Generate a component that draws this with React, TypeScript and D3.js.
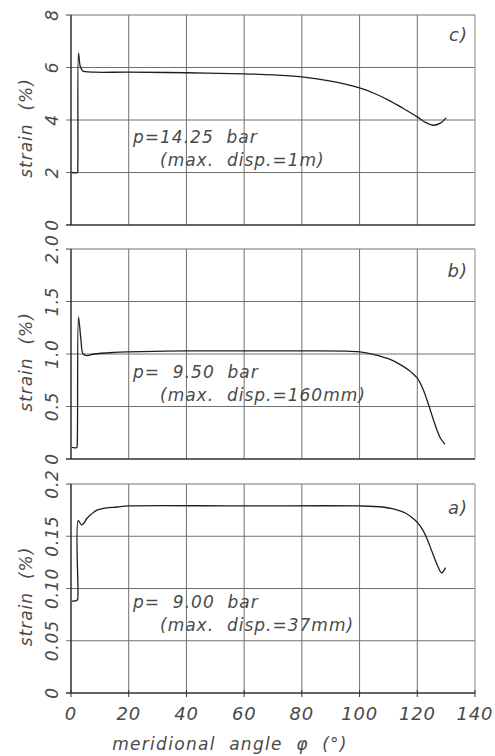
import React from "react";
import * as d3 from "d3";

// meridional angle (deg) and strain (%) per panel
const phiC = [0.3, 2.2, 2.35, 2.6, 3.2, 4, 5, 8, 20, 40, 60, 70, 80, 90, 100, 105, 110, 115, 120, 123, 125.5, 128, 130];
const strainC = [2.0, 2.0, 2.2, 6.55, 6.05, 5.88, 5.84, 5.82, 5.82, 5.8, 5.76, 5.72, 5.64, 5.48, 5.22, 5.02, 4.76, 4.45, 4.12, 3.9, 3.8, 3.88, 4.08];

const phiB = [0.3, 2.0, 2.15, 2.6, 3.4, 4.2, 5.5, 8, 15, 20, 40, 60, 80, 95, 100, 105, 110, 115, 118, 120, 122, 124, 126, 128, 129.6];
const strainB = [0.11, 0.11, 0.14, 1.35, 1.15, 1.0, 0.985, 1.0, 1.015, 1.02, 1.03, 1.03, 1.03, 1.028, 1.02, 0.995, 0.955, 0.885, 0.825, 0.77, 0.665, 0.51, 0.34, 0.2, 0.14];

const phiA = [0.3, 2.2, 2.4, 2.5, 3.6, 4.3, 5.5, 7, 9, 12, 16, 20, 60, 100, 108, 112, 116, 119, 121, 123, 125, 127, 128.4, 129.8];
const strainA = [0.088, 0.089, 0.094, 0.165, 0.161, 0.162, 0.167, 0.171, 0.175, 0.177, 0.178, 0.179, 0.179, 0.179, 0.178, 0.176, 0.172, 0.166, 0.16, 0.15, 0.136, 0.122, 0.115, 0.12];

const xTicks = [0, 20, 40, 60, 80, 100, 120, 140];
const yTicksC = [0, 2, 4, 6, 8];
const yLabelsC = ["0", "2", "4", "6", "8"];
const yTicksB = [0, 0.5, 1, 1.5, 2];
const yLabelsB = ["0", "0.5", "1.0", "1.5", "2.0"];
const yTicksA = [0, 0.05, 0.1, 0.15, 0.2];
const yLabelsA = ["0", "0.05", "0.10", "0.15", "0.2"];

const panels = [
  {
    id: "c", phi: phiC, strain: strainC, yMax: 8, top: 15, bottom: 225,
    yTicks: yTicksC, yLabels: yLabelsC,
    line1: "p=14.25  bar", line2: "(max.  disp.=1m)", t1: 143, t2: 166, labelY: 41,
  },
  {
    id: "b", phi: phiB, strain: strainB, yMax: 2, top: 249, bottom: 459,
    yTicks: yTicksB, yLabels: yLabelsB,
    line1: "p=  9.50  bar", line2: "(max.  disp.=160mm)", t1: 378, t2: 401, labelY: 277,
  },
  {
    id: "a", phi: phiA, strain: strainA, yMax: 0.2, top: 484, bottom: 693,
    yTicks: yTicksA, yLabels: yLabelsA,
    line1: "p=  9.00  bar", line2: "(max.  disp.=37mm)", t1: 608, t2: 631, labelY: 514,
  },
];

const left = 71;
const right = 475;
const font = "'DejaVu Sans', sans-serif";
const textColor = "#4a4a4a";
const txt = {
  fontFamily: font,
  fontStyle: "italic",
  fontWeight: 200,
  fill: textColor,
} as const;

const x = d3.scaleLinear().domain([0, 140]).range([left, right]);

function Panel({ p, last }: { p: (typeof panels)[number]; last: boolean }) {
  const y = d3.scaleLinear().domain([0, p.yMax]).range([p.bottom, p.top]);
  const pts = p.phi.map((v, i) => [v, p.strain[i]] as [number, number]);
  const line = d3
    .line<[number, number]>()
    .x((d) => x(d[0]))
    .y((d) => y(d[1]))
    .curve(d3.curveCatmullRom.alpha(0.5));
  const mid = (p.top + p.bottom) / 2 + 8;
  return (
    <g>
      {/* grid */}
      {xTicks.slice(1, -1).map((t) => (
        <line key={"gx" + t} x1={x(t)} x2={x(t)} y1={p.top} y2={p.bottom} stroke="#707070" strokeWidth={1} />
      ))}
      {p.yTicks.slice(1, -1).map((t) => (
        <line key={"gy" + t} x1={left - 5} x2={right} y1={y(t)} y2={y(t)} stroke="#707070" strokeWidth={1} />
      ))}
      {/* frame */}
      <line x1={left} x2={right} y1={p.top} y2={p.top} stroke="#707070" strokeWidth={1} />
      <line x1={right} x2={right} y1={p.top} y2={p.bottom} stroke="#8a8a8a" strokeWidth={1} />
      <line x1={left - 5} x2={right} y1={p.bottom} y2={p.bottom} stroke="#333" strokeWidth={1.3} />
      <line x1={left} x2={left} y1={p.top} y2={p.bottom} stroke="#222" strokeWidth={1.4} />
      <line x1={left - 5} x2={left} y1={p.top} y2={p.top} stroke="#444" strokeWidth={1} />
      {last &&
        xTicks.map((t) => (
          <line key={"tx" + t} x1={x(t)} x2={x(t)} y1={p.bottom - 3} y2={p.bottom + 4} stroke="#333" strokeWidth={1} />
        ))}
      {/* y tick labels, rotated */}
      {p.yTicks.map((t, i) => (
        <text
          key={"ty" + t}
          transform={`translate(58,${y(t)}) rotate(-90)`}
          textAnchor="middle"
          fontSize={17}
          letterSpacing={0.8}
          {...txt}
        >
          {p.yLabels[i]}
        </text>
      ))}
      <text
        transform={`translate(32,${mid}) rotate(-90)`}
        textAnchor="middle"
        fontSize={17}
        letterSpacing={1}
        style={{ whiteSpace: "pre" }}
        {...txt}
      >
        strain  (%)
      </text>
      <path d={line(pts) ?? ""} fill="none" stroke="#1e1e1e" strokeWidth={1.3} />
      <text x={133} y={p.t1} fontSize={17} letterSpacing={1} style={{ whiteSpace: "pre" }} {...txt}>
        {p.line1}
      </text>
      <text x={160} y={p.t2} fontSize={17} letterSpacing={1} style={{ whiteSpace: "pre" }} {...txt}>
        {p.line2}
      </text>
      <text x={468} y={p.labelY} textAnchor="end" fontSize={18} letterSpacing={1} {...txt}>
        {p.id})
      </text>
    </g>
  );
}

export default function App() {
  const bottom = panels[2].bottom;
  return (
    <svg width={495} height={756} style={{ position: "absolute", left: 0, top: 0, background: "#fff" }}>
      <rect width={495} height={756} fill="#fff" />
      {panels.map((p, i) => (
        <Panel key={p.id} p={p} last={i === panels.length - 1} />
      ))}
      {xTicks.map((t) => (
        <text key={"lx" + t} x={x(t)} y={bottom + 27} textAnchor="middle" fontSize={18} letterSpacing={0.8} {...txt}>
          {t}
        </text>
      ))}
      <text x={230} y={bottom + 57} textAnchor="middle" fontSize={17} letterSpacing={1.3} style={{ whiteSpace: "pre" }} {...txt}>
        meridional  angle  φ  (°)
      </text>
    </svg>
  );
}
